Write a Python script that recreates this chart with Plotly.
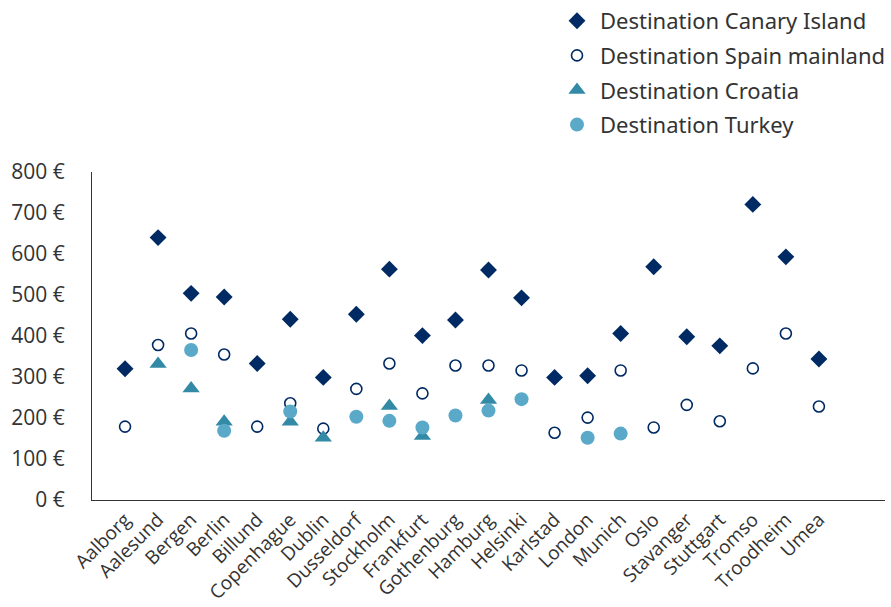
import plotly.graph_objects as go

cities = ["Aalborg", "Aalesund", "Bergen", "Berlin", "Billund", "Copenhague", "Dublin",
          "Dusseldorf", "Stockholm", "Frankfurt", "Gothenburg", "Hamburg", "Helsinki",
          "Karlstad", "London", "Munich", "Oslo", "Stavanger", "Stuttgart", "Tromso",
          "Troodheim", "Umea"]

canary = [320, 640, 504, 495, 333, 441, 299, 453, 563, 401, 439, 561, 493,
          299, 303, 406, 569, 398, 376, 721, 593, 344]
spain = [179, 378, 406, 355, 179, 236, 174, 271, 333, 260, 328, 328, 316,
         164, 201, 316, 177, 232, 192, 321, 406, 228]
croatia = [None, 332, 272, 191, None, 191, 152, None, 229, 156, None, 244, None,
           None, None, None, None, None, None, None, None, None]
turkey = [None, None, 366, 169, None, 216, None, 203, 193, 177, 206, 218, 246,
          None, 152, 162, None, None, None, None, None, None]

y_ticks = [0, 100, 200, 300, 400, 500, 600, 700, 800]
y_labels = [f"{v} €" for v in y_ticks]

x_pos = list(range(1, len(cities) + 1))

NAVY = "#002A63"
TEAL = "#338AA6"
LIGHT = "#5AA9C9"
TEXT = "#333333"

fig = go.Figure()
fig.add_trace(go.Scatter(
    x=x_pos, y=canary, mode="markers", name="Destination Canary Island",
    legendgroup="a",
    marker=dict(symbol="diamond", size=13, color=NAVY)))
fig.add_trace(go.Scatter(
    x=x_pos, y=spain, mode="markers", name="Destination Spain mainland",
    legendgroup="b",
    marker=dict(symbol="circle-open", size=11, color=NAVY, line=dict(width=1.6, color=NAVY))))
fig.add_trace(go.Scatter(
    x=x_pos, y=croatia, mode="markers", name="Destination Croatia",
    legendgroup="c",
    marker=dict(symbol="triangle-up", size=15, color=TEAL)))
fig.add_trace(go.Scatter(
    x=x_pos, y=turkey, mode="markers", name="Destination Turkey",
    legendgroup="d",
    marker=dict(symbol="circle", size=14, color=LIGHT)))

fig.update_layout(
    width=891, height=607,
    margin=dict(l=92, r=6, t=172, b=107),
    paper_bgcolor="white", plot_bgcolor="white",
    font=dict(family="Open Sans", color=TEXT),
    showlegend=True,
    legend=dict(
        x=1.014, xanchor="right", y=1.0, yref="container", yanchor="top",
        font=dict(size=22, family="Noto Sans", color=TEXT),
        tracegroupgap=3, bgcolor="rgba(0,0,0,0)", itemwidth=36,
    ),
    xaxis=dict(
        range=[0, 24], tickmode="array", tickvals=x_pos, ticktext=cities,
        tickangle=-45, tickfont=dict(size=19, color=TEXT), automargin=False,
        showgrid=False, zeroline=False, showline=True, linecolor=TEXT, linewidth=1.2,
        ticks="",
    ),
    yaxis=dict(
        range=[0, 800], tickmode="array", tickvals=y_ticks, ticktext=y_labels,
        tickfont=dict(size=21, color=TEXT), automargin=False,
        showgrid=False, zeroline=False, showline=True, linecolor=TEXT, linewidth=1.2,
        ticks="", ticklabelstandoff=22,
    ),
)

fig.write_html("out.html")
